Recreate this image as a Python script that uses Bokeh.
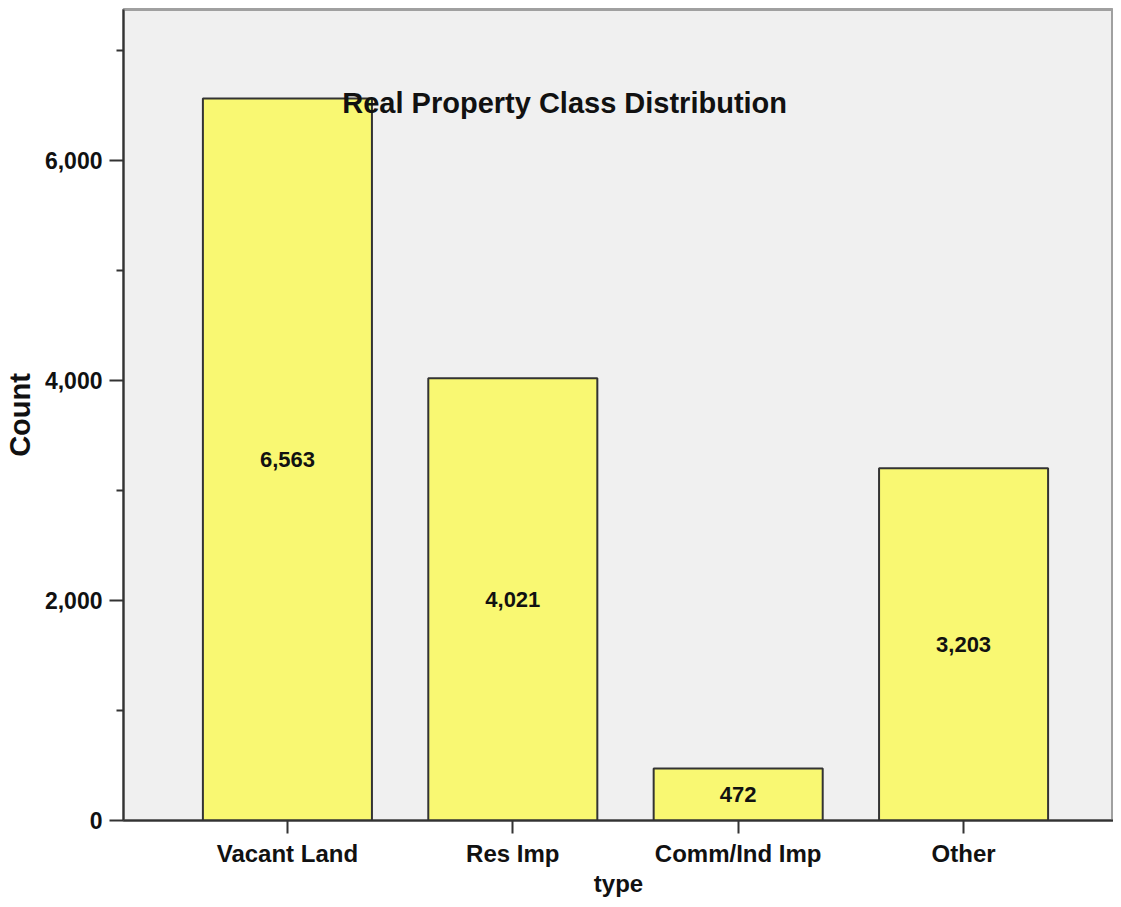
from bokeh.plotting import figure
from bokeh.models import (Range1d, FixedTicker, NumeralTickFormatter,
                          ColumnDataSource, Label)
from bokeh.core.properties import value
from bokeh.embed import file_html
from bokeh.resources import INLINE

categories = ["Vacant Land", "Res Imp", "Comm/Ind Imp", "Other"]
counts = [6563, 4021, 472, 3203]
y_ticks = [0, 2000, 4000, 6000]
y_minor = [1000, 3000, 5000, 7000]
title_text = "Real Property Class Distribution"

FONT = "Liberation Sans"

# category slots on a numeric axis (slot centre = index + 0.5)
xpos = [i + 0.5 for i in range(len(categories))]

src = ColumnDataSource(dict(
    x=xpos,
    count=counts,
    mid=[c / 2 for c in counts],
    lbl=["{:,}".format(c) for c in counts],
))

p = figure(width=1113, height=899,
           x_range=Range1d(-0.2273, len(categories) + 0.1652),
           y_range=Range1d(0, 7373),
           output_backend="svg", toolbar_location=None,
           min_border_left=122, min_border_right=0, min_border_top=9, min_border_bottom=79)

p.background_fill_color = "#F0F0F0"
p.border_fill_color = "white"
p.outline_line_color = "#A0A0A0"
p.outline_line_width = 3
p.xgrid.visible = False
p.ygrid.visible = False

p.vbar(x="x", top="count", width=0.75, source=src,
       fill_color="#F9F872", line_color="#333333", line_width=2)

p.text(x="x", y="mid", text="lbl", source=src,
       text_align="center", text_baseline="middle",
       text_font=value(FONT), text_font_style="bold", text_font_size="22px",
       text_color="#111111")

p.add_layout(Label(x=1.73, y=6527, text=title_text, text_align="center",
                   text_baseline="middle", text_font=FONT, text_font_size="29px",
                   text_font_style="bold", text_color="#111111"))

# y axis
ya = p.yaxis[0]
ya.ticker = FixedTicker(ticks=y_ticks, minor_ticks=y_minor)
ya.formatter = NumeralTickFormatter(format="0,0")
ya.axis_label = "Count"
ya.axis_label_text_font = FONT
ya.axis_label_text_font_style = "bold"
ya.axis_label_text_font_size = "29px"
ya.axis_label_text_color = "#111111"
ya.axis_label_standoff = 6
ya.major_label_text_font = FONT
ya.major_label_text_font_style = "bold"
ya.major_label_text_font_size = "23px"
ya.major_label_text_color = "#111111"
ya.major_label_standoff = 7
ya.major_tick_out = 14
ya.major_tick_in = 0
ya.minor_tick_out = 7
ya.minor_tick_in = 0
ya.axis_line_color = "#333333"
ya.axis_line_width = 2
ya.major_tick_line_color = "#333333"
ya.major_tick_line_width = 2
ya.minor_tick_line_color = "#333333"
ya.minor_tick_line_width = 2

# x axis
xa = p.xaxis[0]
xa.ticker = FixedTicker(ticks=xpos, minor_ticks=[])
xa.major_label_overrides = {x: c for x, c in zip(xpos, categories)}
xa.axis_label = "type"
xa.axis_label_text_font = FONT
xa.axis_label_text_font_style = "bold"
xa.axis_label_text_font_size = "24px"
xa.axis_label_text_color = "#111111"
xa.axis_label_standoff = 0
xa.major_label_text_font = FONT
xa.major_label_text_font_style = "bold"
xa.major_label_text_font_size = "24px"
xa.major_label_text_color = "#111111"
xa.major_label_standoff = 6
xa.major_tick_out = 13
xa.major_tick_in = 0
xa.minor_tick_out = 0
xa.axis_line_color = "#333333"
xa.axis_line_width = 2
xa.major_tick_line_color = "#333333"
xa.major_tick_line_width = 2

open("out.html", "w").write(file_html(p, INLINE))
